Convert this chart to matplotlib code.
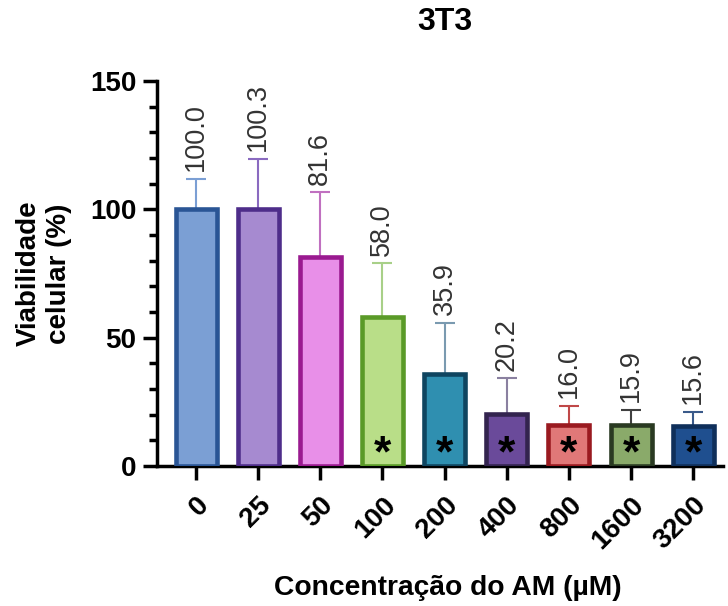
import matplotlib
matplotlib.use("Agg")
import matplotlib.pyplot as plt
from matplotlib.ticker import MultipleLocator

plt.rcParams['font.family'] = ['Liberation Sans', 'DejaVu Sans']

categories = ["0", "25", "50", "100", "200", "400", "800", "1600", "3200"]
means = [100.0, 100.3, 81.6, 58.0, 35.9, 20.2, 16.0, 15.9, 15.6]
sds = [12.0, 19.5, 25.0, 21.0, 20.0, 14.0, 7.5, 6.0, 5.5]
significant = [False, False, False, True, True, True, True, True, True]

fills = ["#7b9fd4", "#a68ad0", "#e88fe8", "#b9de88", "#2f8fb0", "#6a4a9a", "#e07878", "#8aaa6a", "#1f4f8f"]
edges = ["#2a5595", "#4e2d8a", "#9a1a90", "#5a9a28", "#0f4560", "#33244f", "#9a1a20", "#2a3a22", "#0f2f5a"]
errc = ["#7b9fd4", "#8a6ac0", "#c070c0", "#a8d088", "#7a9ab0", "#8a80a0", "#c04848", "#404040", "#3a5a8a"]

fig = plt.figure(figsize=(7.28, 6.06), dpi=100)
ax = fig.add_axes([157/728, 1-466/606, (723-157)/728, (466-81)/606])

x = list(range(len(categories)))
for i in x:
    ax.bar(i, means[i], width=0.66, color=fills[i], edgecolor=edges[i], linewidth=3.3, zorder=3)
    ax.errorbar(i, means[i], yerr=[[0], [sds[i]]], color=errc[i], elinewidth=1.5,
                capsize=7.2, capthick=1.5, zorder=2, fmt='none')
    ax.text(i, means[i] + sds[i] + 3.0, f"{means[i]:.1f}", rotation=90, ha='center', va='bottom',
            fontsize=19.5, color='#333333')
    if significant[i]:
        ax.text(i, -3.5, "*", ha='center', va='bottom', fontsize=32, fontweight='bold', color='black', zorder=4)

ax.set_xlim(-0.628, 8.48)
ax.set_ylim(0, 150)
ax.yaxis.set_major_locator(MultipleLocator(50))
ax.yaxis.set_minor_locator(MultipleLocator(10))
ax.set_xticks(x)
ax.set_xticklabels(categories, rotation=45, ha='right', rotation_mode='anchor', fontsize=20, fontweight='bold')
for lab in ax.get_yticklabels():
    lab.set_fontweight('bold')
    lab.set_fontsize(20)

for s in ['top', 'right']:
    ax.spines[s].set_visible(False)
for s in ['left', 'bottom']:
    ax.spines[s].set_linewidth(2.5)
ax.tick_params(axis='y', which='major', length=10, width=2.5, pad=5)
ax.tick_params(axis='y', which='minor', length=5.5, width=2.5)
ax.tick_params(axis='x', which='major', length=10, width=2.5, pad=9)

ax.set_ylabel("Viabilidade\ncelular (%)", fontsize=20, fontweight='bold', linespacing=1.2)
ax.yaxis.set_label_coords(-(157-44)/566, 0.5)
ax.set_xlabel("Concentração do AM (µM)", fontsize=20.3, fontweight='bold')
ax.xaxis.set_label_coords((448-157)/566, -(588-466)/385)
ax.xaxis.label.set_va('center')
ax.yaxis.label.set_va('center')
fig.text(445/728, 1-22/606, "3T3", fontsize=23, fontweight='bold', ha='center', va='center')

fig.savefig("out.png", dpi=100)
